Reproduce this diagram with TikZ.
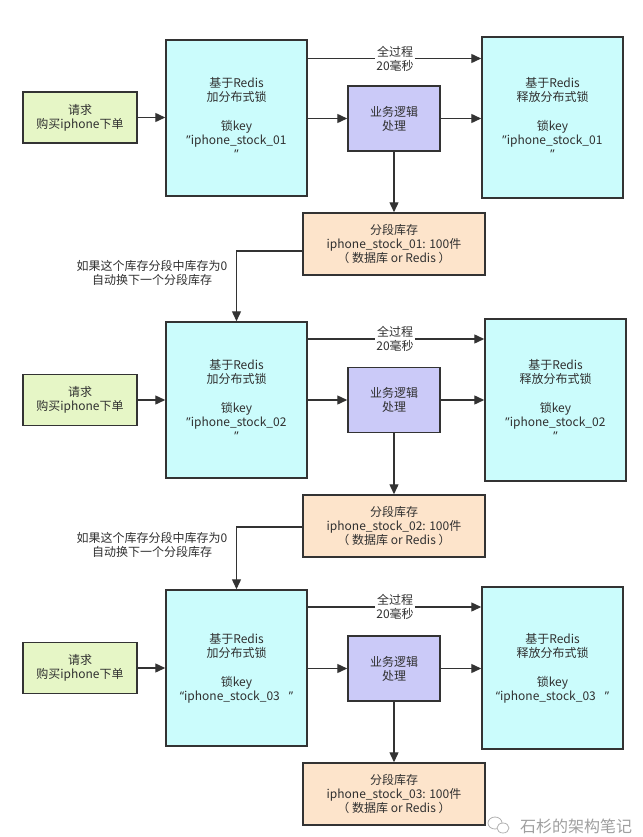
\documentclass[tikz,border=0pt]{standalone}
\usepackage{fontspec}
\setmainfont{Noto Sans CJK SC}
\newfontfamily\latf{Noto Sans}
\newcommand{\rqt}{{\latf ”}}
\newcommand{\lqt}{{\latf “}}
\usetikzlibrary{arrows.meta}
\definecolor{reqfill}{HTML}{E6F6C6}
\definecolor{lockfill}{HTML}{CBFCFC}
\definecolor{bizfill}{HTML}{CBCAF8}
\definecolor{stockfill}{HTML}{FDE4CB}
\definecolor{edge}{HTML}{333333}
\definecolor{txt}{HTML}{303030}
\begin{document}
\begin{tikzpicture}[x=1pt,y=-1pt,
  every node/.style={font=\fontsize{12}{14}\selectfont, text=txt, align=center},
  box/.style={draw=edge, line width=1.5pt, inner sep=0pt, rectangle},
  reqbox/.style={box, fill=reqfill, minimum width=114pt, minimum height=51pt},
  lockbox/.style={box, fill=lockfill, minimum width=141pt, minimum height=156pt},
  relbox/.style={box, fill=lockfill, minimum width=141pt, minimum height=161pt},
  bizbox/.style={box, fill=bizfill, minimum width=92pt, minimum height=65pt},
  stockbox/.style={box, fill=stockfill, minimum width=182pt, minimum height=62pt},
  lbl/.style={fill=white, inner sep=1pt},
  arr/.style={draw=edge, line width=1.4pt, -{Triangle[length=10pt,width=9pt]}},
]
\useasboundingbox[fill=white] (0,0) rectangle (642,837);

% ---------- block 1 ----------
\node[reqbox] (req1) at (80,117.5) {请求\\购买iphone下单};
\node[lockbox] (lock1) at (236.5,118) {基于Redis\\加分布式锁\\[15pt]锁key\\\rqt iphone\_stock\_01\\\rqt};
\node[bizbox] (biz1) at (394,118.5) {业务逻辑\\处理};
\node[relbox] (rel1) at (552.5,117.5) {基于Redis\\释放分布式锁\\[15pt]锁key\\\rqt iphone\_stock\_01\\\rqt};
\node[stockbox] (stock1) at (394,244) {分段库存\\iphone\_stock\_01: 100件\\（ 数据库 or Redis ）};
\coordinate (t1) at (395,58.5);
\draw[arr] (t1 -| lock1.east) -- (t1 -| rel1.west);
\node[lbl] (lab1) at (t1) {全过程\\20毫秒};
\draw[arr] (req1.east) -- (req1.east -| lock1.west);
\draw[arr] (biz1.west -| lock1.east) -- (biz1.west);
\draw[arr] (biz1.east) -- (biz1.east -| rel1.west);
\draw[arr] (biz1.south) -- (stock1.north);

% ---------- block 2 ----------
\node[reqbox] (req2) at (80,400) {请求\\购买iphone下单};
\node[lockbox] (lock2) at (236.5,400) {基于Redis\\加分布式锁\\[15pt]锁key\\\rqt iphone\_stock\_02\\\rqt};
\node[bizbox] (biz2) at (394,400) {业务逻辑\\处理};
\node[relbox, minimum height=162pt] (rel2) at (555.5,400) {基于Redis\\释放分布式锁\\[15pt]锁key\\\rqt iphone\_stock\_02\\\rqt};
\node[stockbox] (stock2) at (394,526) {分段库存\\iphone\_stock\_02: 100件\\（ 数据库 or Redis ）};
\coordinate (t2) at (395,339);
\draw[arr] (t2 -| lock2.east) -- (t2 -| rel2.west);
\node[lbl] (lab2) at (t2) {全过程\\20毫秒};
\draw[arr] (req2.east) -- (req2.east -| lock2.west);
\draw[arr] (biz2.west -| lock2.east) -- (biz2.west);
\draw[arr] (biz2.east) -- (biz2.east -| rel2.west);
\draw[arr] (biz2.south) -- (stock2.north);

% ---------- block 3 ----------
\node[reqbox] (req3) at (80,668) {请求\\购买iphone下单};
\node[lockbox] (lock3) at (236.5,668) {基于Redis\\加分布式锁\\[15pt]锁key\\\lqt iphone\_stock\_03\hspace{9pt}\rqt};
\node[bizbox] (biz3) at (394,668.5) {业务逻辑\\处理};
\node[relbox, minimum height=162pt] (rel3) at (552.5,668) {基于Redis\\释放分布式锁\\[15pt]锁key\\\lqt iphone\_stock\_03\hspace{9pt}\rqt};
\node[stockbox] (stock3) at (394,794) {分段库存\\iphone\_stock\_03: 100件\\（ 数据库 or Redis ）};
\coordinate (t3) at (395,607);
\draw[arr] (t3 -| lock3.east) -- (t3 -| rel3.west);
\node[lbl] (lab3) at (t3) {全过程\\20毫秒};
\draw[arr] (req3.east) -- (req3.east -| lock3.west);
\draw[arr] (biz3.west -| lock3.east) -- (biz3.west);
\draw[arr] (biz3.east) -- (biz3.east -| rel3.west);
\draw[arr] (biz3.south) -- (stock3.north);

% ---------- segment switching ----------
\draw[arr] ([yshift=-7pt]stock1.west) -| (lock2.north);
\node (sw1) at (152,272.5) {如果这个库存分段中库存为0\\自动换下一个分段库存};
\draw[arr] ([yshift=-1pt]stock2.west) -| (lock3.north);
\node (sw2) at (152,544.5) {如果这个库存分段中库存为0\\自动换下一个分段库存};

% ---------- watermark ----------
\node[text=gray!75, font=\fontsize{16}{16}\selectfont] (wm) at (576,826) {石杉的架构笔记};
\draw[gray!60, line width=0.8pt] (495,823) ellipse (7pt and 6pt);
\draw[gray!60, line width=0.8pt, fill=white] (503,828) ellipse (6pt and 5pt);
\end{tikzpicture}
\end{document}
